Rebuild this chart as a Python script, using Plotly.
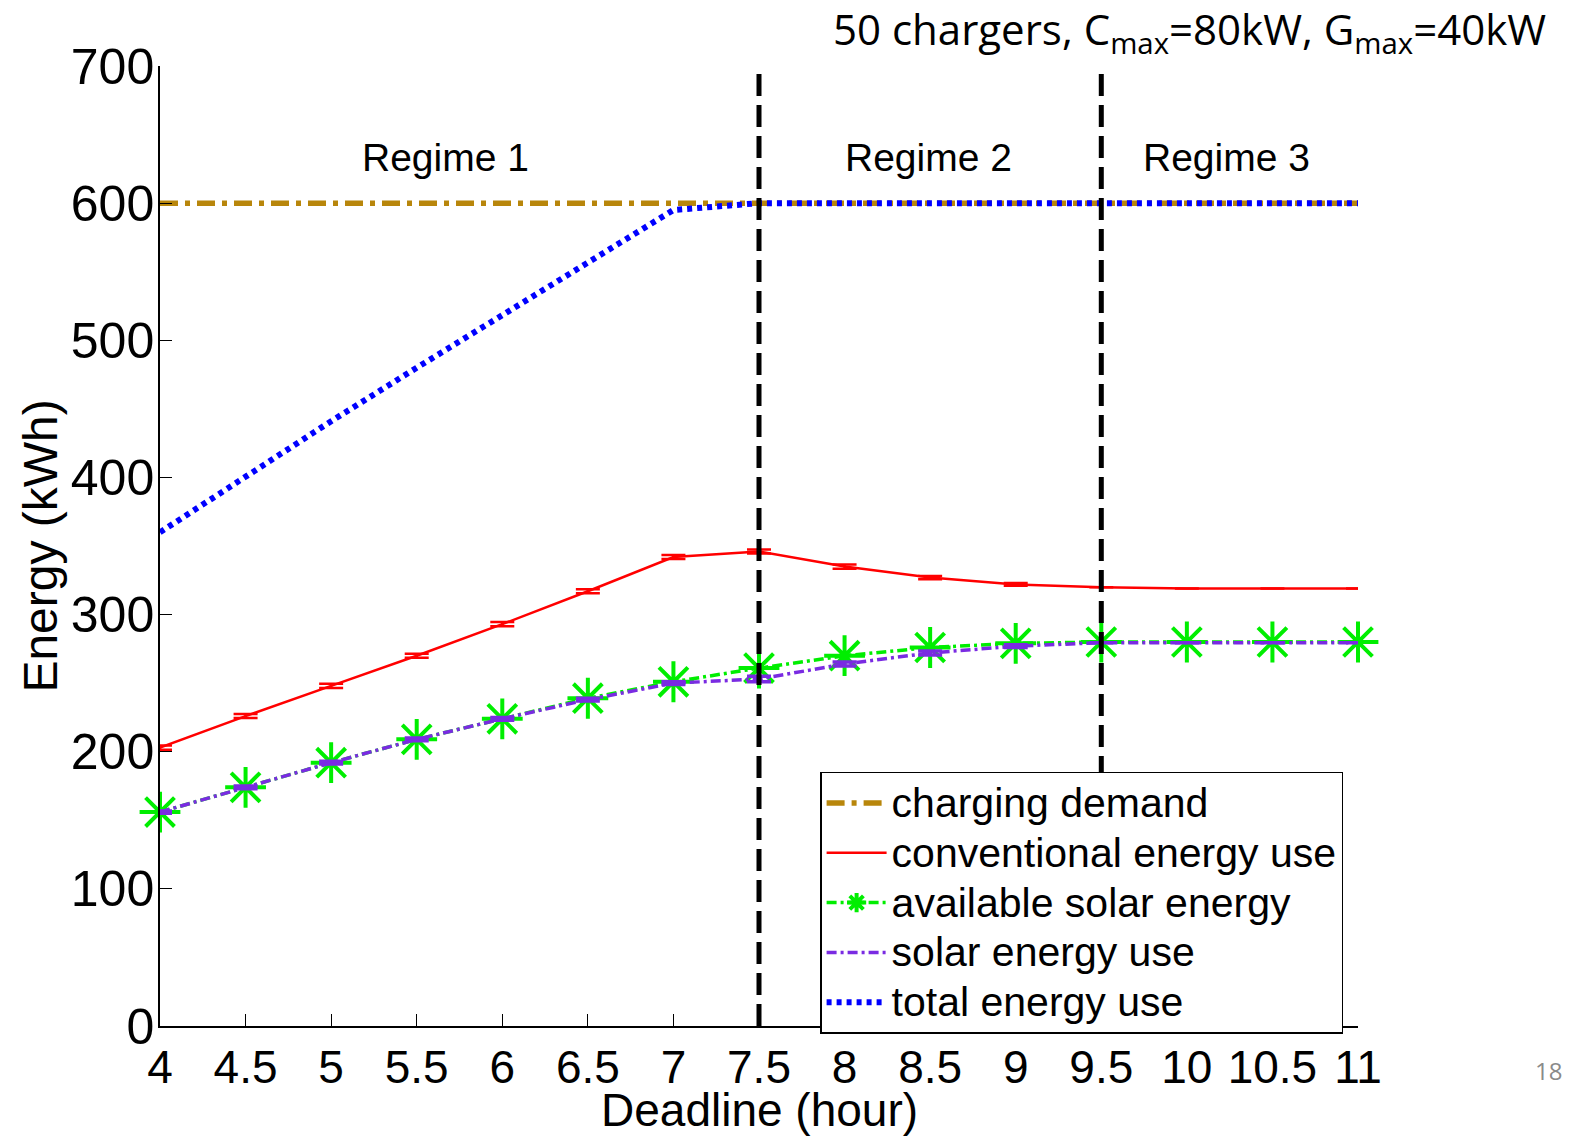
import plotly.graph_objects as go

# ---------------- data ----------------
deadline = [4, 4.5, 5, 5.5, 6, 6.5, 7, 7.5, 8, 8.5, 9, 9.5, 10, 10.5, 11]
charging_demand = [600] * 15
conventional = [203, 226, 248, 270, 293, 317, 342, 346, 335, 327, 322, 320, 319, 319, 319]
conventional_err = [1.5, 1.5, 1.5, 1.5, 1.5, 1.5, 1.5, 1.5, 1.5, 1.2, 1.0, 0, 0, 0, 0]
solar_available = [156, 174, 192, 209, 224, 239, 251, 261, 270, 276, 279, 280, 280, 280, 280]
solar_use = [156, 174, 192, 209, 224, 238, 250, 253, 264, 272, 277, 279.5, 279.5, 279.5, 279.5]
solar_use_err = [0.8, 1, 1, 1, 1, 1, 1, 2, 1.5, 1.5, 1, 0, 0, 0, 0]
total_use = [360, 401, 441, 480, 518, 557, 595, 600, 600, 600, 600, 600, 600, 600, 600]
regime_bounds = [7.5, 9.5]
regime_labels = ["Regime 1", "Regime 2", "Regime 3"]
regime_label_x = [5.67, 8.49, 10.23]
regime_label_y = 633
x_ticks = [4, 4.5, 5, 5.5, 6, 6.5, 7, 7.5, 8, 8.5, 9, 9.5, 10, 10.5, 11]
y_ticks = [0, 100, 200, 300, 400, 500, 600, 700]
series_names = ["charging demand", "conventional energy use", "available solar energy",
                "solar energy use", "total energy use"]

FONT = "Arial, Liberation Sans, sans-serif"


def leg(name):
    return '<span style="font-size:41px">' + name + '</span>'


fig = go.Figure()

fig.add_trace(go.Scatter(
    x=deadline, y=charging_demand, mode="lines", name=leg(series_names[0]),
    line=dict(color="#B8860B", width=5.5, dash="18px,7px,5px,7px")))

fig.add_trace(go.Scatter(
    x=deadline, y=conventional, mode="lines", name=leg(series_names[1]),
    line=dict(color="#FF0000", width=2.5),
    error_y=dict(type="data", array=conventional_err, color="#FF0000",
                 thickness=2.5, width=12)))

fig.add_trace(go.Scatter(
    x=deadline, y=solar_available, mode="lines+markers", name=leg(series_names[2]),
    line=dict(color="#00EE00", width=3.5, dash="10px,4px,3px,4px"),
    marker=dict(symbol="asterisk-open", size=34, color="#00EE00",
                line=dict(color="#00EE00", width=4)),
    cliponaxis=False))

fig.add_trace(go.Scatter(
    x=deadline, y=solar_use, mode="lines", name=leg(series_names[3]),
    line=dict(color="#7A2BE2", width=3.5, dash="10px,4px,3px,4px"),
    error_y=dict(type="data", array=solar_use_err, color="#7A2BE2",
                 thickness=3.5, width=12)))

fig.add_trace(go.Scatter(
    x=deadline, y=total_use, mode="lines", name=leg(series_names[4]),
    line=dict(color="#0000FF", width=6, dash="5px,5px")))

for xb in regime_bounds:
    fig.add_trace(go.Scatter(
        x=[xb, xb], y=[y_ticks[0], y_ticks[-1]], mode="lines", showlegend=False,
        line=dict(color="black", width=5, dash="22px,9px"), hoverinfo="skip"))

for lab, lx in zip(regime_labels, regime_label_x):
    fig.add_annotation(x=lx, y=regime_label_y, text=lab, showarrow=False,
                       xref="x", yref="y", xanchor="center", yanchor="middle",
                       font=dict(family=FONT, size=39, color="black"))

# title in the top right
fig.add_annotation(
    x=1.1586, y=1.036, xref="paper", yref="paper", xanchor="right", yanchor="middle",
    text="50 chargers, C<sub>max</sub>=80kW, G<sub>max</sub>=40kW", showarrow=False,
    font=dict(family="Open Sans, Noto Sans, sans-serif", size=42, color="black"))

# page number
fig.add_annotation(
    x=1.159, y=-0.046, xref="paper", yref="paper", text="18", showarrow=False,
    xanchor="center", yanchor="middle",
    font=dict(family="Open Sans, Noto Sans, sans-serif", size=24, color="#8A8A8A"))

# axis titles
fig.add_annotation(
    x=-0.1005, y=0.50, xref="paper", yref="paper", text="Energy (kWh)", textangle=-90,
    xanchor="center", yanchor="middle",
    showarrow=False, font=dict(family=FONT, size=48, color="black"))
fig.add_annotation(
    x=0.5008, y=-0.088, xref="paper", yref="paper", text="Deadline (hour)",
    xanchor="center", yanchor="middle",
    showarrow=False, font=dict(family=FONT, size=46, color="black"))

fig.update_layout(
    width=1558, height=1129,
    margin=dict(l=152, r=208, t=58, b=111, autoexpand=False),
    paper_bgcolor="white", plot_bgcolor="white",
    font=dict(family=FONT, color="black"),
    showlegend=True,
    legend=dict(x=0.551, y=0.265, xanchor="left", yanchor="top",
                bgcolor="white", bordercolor="black", borderwidth=1.5,
                font=dict(family=FONT, size=36, color="black"),
                itemwidth=60, tracegroupgap=0),
    xaxis=dict(range=[4, 11], tickvals=x_ticks, ticks="inside", ticklen=12,
               tickcolor="black", showline=True, linecolor="black", linewidth=1.5,
               showgrid=False, zeroline=False, tickangle=0, automargin=False,
               tickfont=dict(family=FONT, size=46, color="black")),
    yaxis=dict(range=[0, 700], tickvals=y_ticks, ticks="inside", ticklen=12,
               tickcolor="black", showline=True, linecolor="black", linewidth=1.5,
               showgrid=False, zeroline=False, automargin=False,
               ticklabelstandoff=-6,
               tickfont=dict(family=FONT, size=50, color="black")),
)

fig.write_html("out.html")
